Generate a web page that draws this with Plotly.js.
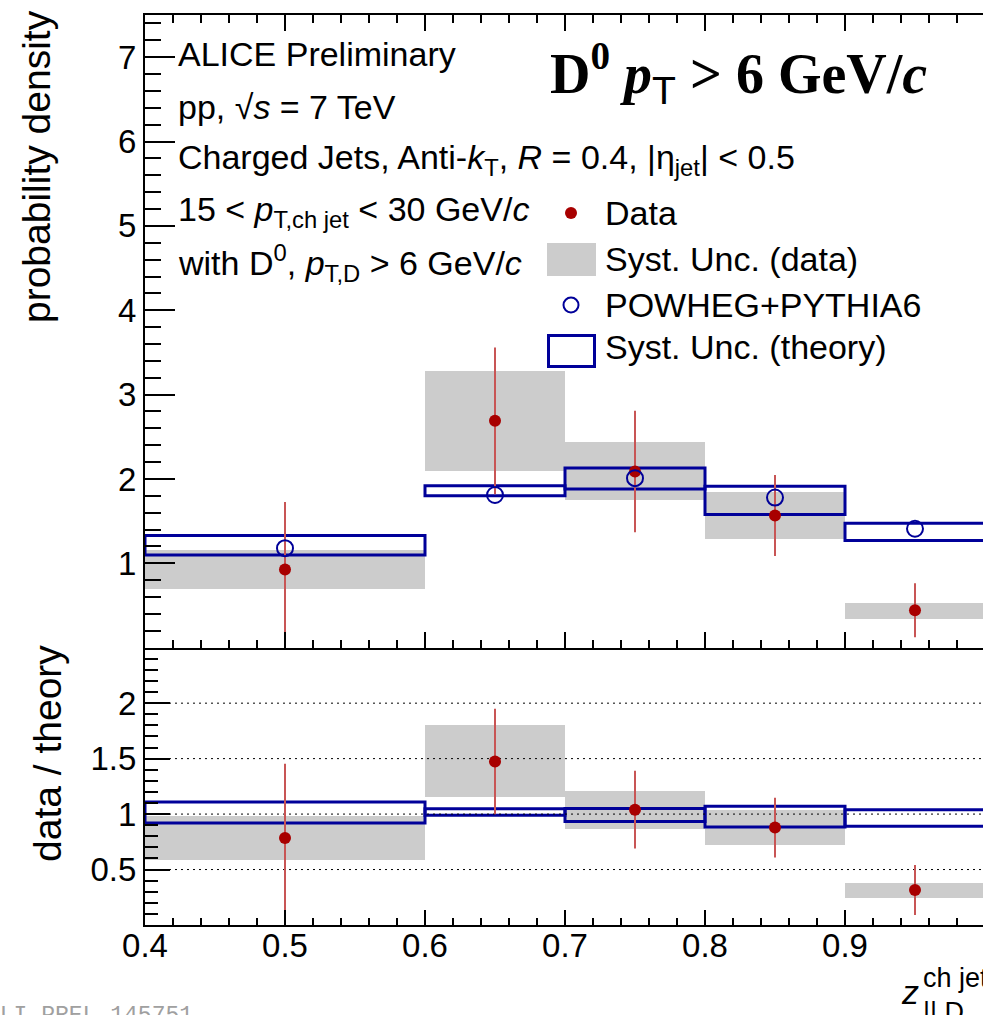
<!DOCTYPE html>
<html>
<head>
<meta charset="utf-8">
<script src="https://cdn.plot.ly/plotly-3.0.1.min.js"></script>
<style>html,body{margin:0;padding:0;background:#fff;}#chart{width:983px;height:1015px;}</style>
</head>
<body>
<div id="chart"></div>
<script>
// ---- data ----
const binLo = [0.4, 0.6, 0.7, 0.8, 0.9];
const binHi = [0.6, 0.7, 0.8, 0.9, 1.0];
const xPoints = [0.5, 0.65, 0.75, 0.85, 0.95];

// upper panel: probability density
const dataY        = [0.926, 2.69, 2.09, 1.566, 0.444];
const dataErr      = [0.80, 0.87, 0.72, 0.48, 0.32];
const dataSystLo   = [0.69, 2.10, 1.75, 1.286, 0.344];
const dataSystHi   = [1.16, 3.28, 2.44, 1.85, 0.534];
const theoryY      = [1.18, 1.81, 2.01, 1.78, 1.41];
const theorySystLo = [1.10, 1.80, 1.88, 1.58, 1.27];
const theorySystHi = [1.33, 1.92, 2.13, 1.915, 1.476];

// lower panel: data / theory
const ratioY       = [0.784, 1.474, 1.04, 0.878, 0.316];
const ratioErr     = [0.67, 0.475, 0.35, 0.27, 0.225];
const ratioSystLo  = [0.59, 1.153, 0.865, 0.718, 0.247];
const ratioSystHi  = [0.98, 1.80, 1.21, 1.035, 0.379];
const ratioTheoLo  = [0.92, 0.99, 0.934, 0.883, 0.89];
const ratioTheoHi  = [1.11, 1.049, 1.05, 1.07, 1.04];

// tick labels
const topTickVals = [1, 2, 3, 4, 5, 6, 7];
const topTickText = ['1', '2', '3', '4', '5', '6', '7'];
const ratioTickVals = [0.5, 1, 1.5, 2];
const ratioTickText = ['0.5', '1', '1.5', '2'];
const ratioGridVals = [0.5, 1, 1.5, 2];

// ---- styles ----
const RED = '#a80000', ERRRED = '#c85555', BLUE = '#000099', GREY = '#cccccc';
const FONT = 'Liberation Sans, Arial, sans-serif';
const X0 = 0.4, XFULL = 1.0;
const TICKSIZE = 33, TEXTSIZE = 34;

// figure geometry (pixels)
const W = 983, H = 1015, L = 145, R = 983, T = 15, B = 925;
const xScale = 1400; // px per unit of z
const xMaxVisible = X0 + (R - L) / xScale;
const splitPx = 647.7;
const splitFrac = (B - splitPx) / (B - T);
function px(x) { return (x - L) / (R - L); }
function py(y) { return (B - y) / (B - T); }

const centers = binLo.map((lo, i) => (lo + binHi[i]) / 2);
const widths = binLo.map((lo, i) => binHi[i] - lo);
const diff = (hi, lo) => hi.map((h, i) => h - lo[i]);

const traces = [];
// upper panel
traces.push({type: 'bar', x: centers, width: widths, base: dataSystLo, y: diff(dataSystHi, dataSystLo),
  xaxis: 'x', yaxis: 'y', marker: {color: GREY, line: {width: 0}}, hoverinfo: 'skip', showlegend: false});
traces.push({type: 'bar', x: centers, width: widths, base: theorySystLo, y: diff(theorySystHi, theorySystLo),
  xaxis: 'x', yaxis: 'y', marker: {color: 'rgba(0,0,0,0)', line: {width: 3, color: BLUE}}, hoverinfo: 'skip', showlegend: false});
traces.push({type: 'scatter', mode: 'markers', x: xPoints, y: dataY, xaxis: 'x', yaxis: 'y',
  error_y: {type: 'data', array: dataErr, visible: true, color: ERRRED, thickness: 2, width: 0},
  marker: {color: RED, size: 12, symbol: 'circle'}, hoverinfo: 'skip', showlegend: false});
traces.push({type: 'scatter', mode: 'markers', x: xPoints, y: theoryY, xaxis: 'x', yaxis: 'y',
  marker: {color: BLUE, size: 16, symbol: 'circle-open', line: {width: 2, color: BLUE}}, hoverinfo: 'skip', showlegend: false});

// lower panel
traces.push({type: 'bar', x: centers, width: widths, base: ratioSystLo, y: diff(ratioSystHi, ratioSystLo),
  xaxis: 'x2', yaxis: 'y2', marker: {color: GREY, line: {width: 0}}, hoverinfo: 'skip', showlegend: false});
ratioGridVals.forEach(v => {
  traces.push({type: 'scatter', mode: 'lines', x: [X0, XFULL], y: [v, v], xaxis: 'x2', yaxis: 'y2',
    line: {color: '#000', width: 1, dash: '2px,4px'}, hoverinfo: 'skip', showlegend: false});
});
traces.push({type: 'bar', x: centers, width: widths, base: ratioTheoLo, y: diff(ratioTheoHi, ratioTheoLo),
  xaxis: 'x2', yaxis: 'y2', marker: {color: 'rgba(0,0,0,0)', line: {width: 3, color: BLUE}}, hoverinfo: 'skip', showlegend: false});
traces.push({type: 'scatter', mode: 'markers', x: xPoints, y: ratioY, xaxis: 'x2', yaxis: 'y2',
  error_y: {type: 'data', array: ratioErr, visible: true, color: ERRRED, thickness: 2, width: 0},
  marker: {color: RED, size: 12, symbol: 'circle'}, hoverinfo: 'skip', showlegend: false});

const tickCommon = {showgrid: false, zeroline: false, fixedrange: true, tickcolor: '#000', tickwidth: 2,
  linecolor: '#000', linewidth: 2, ticks: 'inside'};

const layout = {
  width: W, height: H,
  margin: {l: L, r: W - R, t: T, b: H - B, pad: 0},
  paper_bgcolor: '#fff', plot_bgcolor: '#fff',
  barmode: 'overlay', bargap: 0, showlegend: false,
  font: {family: FONT, color: '#000'},
  xaxis: Object.assign({}, tickCommon, {domain: [0, 1], anchor: 'y', range: [X0, xMaxVisible],
    showline: true, mirror: 'allticks', ticklen: 16, tickmode: 'linear', tick0: X0, dtick: 0.1,
    minor: {ticks: 'inside', ticklen: 8, tickwidth: 2, tickcolor: '#000', tickmode: 'linear', tick0: X0, dtick: 0.02},
    showticklabels: false}),
  yaxis: Object.assign({}, tickCommon, {domain: [splitFrac, 1], anchor: 'x', range: [0, 7.5],
    showline: true, mirror: false, ticklen: 30, tickmode: 'array', tickvals: topTickVals, ticktext: topTickText,
    minor: {ticks: 'inside', ticklen: 16, tickwidth: 2, tickcolor: '#000', tickmode: 'linear', tick0: 0, dtick: 0.2},
    tickfont: {size: TICKSIZE, family: FONT}, ticklabelstandoff: 0}),
  yaxis3: Object.assign({}, tickCommon, {overlaying: 'y', side: 'right', anchor: 'x', range: [0, 7.5],
    showline: false, ticklen: 30, tickmode: 'linear', tick0: 0, dtick: 1,
    minor: {ticks: 'inside', ticklen: 16, tickwidth: 2, tickcolor: '#000', tickmode: 'linear', tick0: 0, dtick: 0.2},
    showticklabels: false}),
  xaxis2: Object.assign({}, tickCommon, {domain: [0, 1], anchor: 'y2', range: [X0, xMaxVisible],
    showline: true, mirror: false, ticklen: 15, tickmode: 'linear', tick0: X0, dtick: 0.1,
    minor: {ticks: 'inside', ticklen: 7, tickwidth: 2, tickcolor: '#000', tickmode: 'linear', tick0: X0, dtick: 0.02},
    tickfont: {size: TICKSIZE, family: FONT}, ticklabelstandoff: -10}),
  xaxis3: Object.assign({}, tickCommon, {overlaying: 'x2', side: 'top', anchor: 'y2', range: [X0, xMaxVisible],
    showline: false, ticklen: 8, tickmode: 'linear', tick0: X0, dtick: 0.1,
    minor: {ticks: 'inside', ticklen: 4, tickwidth: 2, tickcolor: '#000', tickmode: 'linear', tick0: X0, dtick: 0.02},
    showticklabels: false}),
  yaxis2: Object.assign({}, tickCommon, {domain: [0, splitFrac], anchor: 'x2', range: [0, 2.5],
    showline: true, mirror: false, ticklen: 25, tickmode: 'array', tickvals: ratioTickVals, ticktext: ratioTickText,
    minor: {ticks: 'inside', ticklen: 13, tickwidth: 2, tickcolor: '#000', tickmode: 'linear', tick0: 0, dtick: 0.1},
    tickfont: {size: TICKSIZE, family: FONT}, ticklabelstandoff: 0}),
  yaxis4: Object.assign({}, tickCommon, {overlaying: 'y2', side: 'right', anchor: 'x2', range: [0, 2.5],
    showline: false, ticklen: 25, tickmode: 'linear', tick0: 0, dtick: 0.5,
    minor: {ticks: 'inside', ticklen: 13, tickwidth: 2, tickcolor: '#000', tickmode: 'linear', tick0: 0, dtick: 0.1},
    showticklabels: false}),
  shapes: [
    // legend keys
    {type: 'circle', xref: 'paper', yref: 'paper', x0: px(565), x1: px(577), y0: py(219), y1: py(207),
      fillcolor: RED, line: {width: 0}},
    {type: 'rect', xref: 'paper', yref: 'paper', x0: px(547), x1: px(596), y0: py(276), y1: py(243),
      fillcolor: GREY, line: {width: 0}},
    {type: 'circle', xref: 'paper', yref: 'paper', x0: px(563.5), x1: px(578.5), y0: py(312.5), y1: py(297.5),
      fillcolor: 'rgba(0,0,0,0)', line: {width: 2, color: BLUE}},
    {type: 'rect', xref: 'paper', yref: 'paper', x0: px(548.5), x1: px(594.5), y0: py(366.5), y1: py(335.5),
      fillcolor: 'rgba(0,0,0,0)', line: {width: 3, color: BLUE}}
  ],
  annotations: []
};

function txt(text, x, y, size, opts) {
  return Object.assign({xref: 'paper', yref: 'paper', x: px(x), y: py(y), text: text, showarrow: false,
    xanchor: 'left', yanchor: 'middle', font: {size: size, family: FONT, color: '#000'}}, opts || {});
}
const A = layout.annotations;
// left text block
A.push(txt('ALICE Preliminary', 176, 54, TEXTSIZE));
A.push(txt('pp, √<i>s</i> = 7 TeV', 176, 107, TEXTSIZE));
A.push(txt('Charged Jets, Anti-<i>k</i><sub>T</sub>, <i>R</i> = 0.4, |η<sub>jet</sub>| &lt; 0.5', 176, 159, TEXTSIZE));
A.push(txt('15 &lt; <i>p</i><sub>T,ch jet</sub> &lt; 30 GeV/<i>c</i>', 176, 211, TEXTSIZE));
A.push(txt('with D<sup>0</sup>, <i>p</i><sub>T,D</sub> &gt; 6 GeV/<i>c</i>', 176, 263, TEXTSIZE));
// big label
A.push(txt('<b>D<sup>0</sup> <i>p</i></b><sub><span style="font-family:Liberation Sans">T</span></sub><b> &gt; 6 GeV/<i>c</i></b>',
  738, 73, 56, {xanchor: 'center', font: {size: 56, family: 'Liberation Serif, Times New Roman, serif', color: '#000'}}));
// legend texts
A.push(txt('Data', 603, 213, TEXTSIZE));
A.push(txt('Syst. Unc. (data)', 603, 259, TEXTSIZE));
A.push(txt('POWHEG+PYTHIA6', 603, 305, TEXTSIZE));
A.push(txt('Syst. Unc. (theory)', 603, 347, TEXTSIZE));
// axis titles
A.push(txt('probability density', 37, 166, 39, {xanchor: 'center', textangle: -90}));
A.push(txt('data / theory', 47, 754, 39, {xanchor: 'center', textangle: -90}));
A.push(txt('<i>z</i>', 899, 992, 34));
A.push(txt('ch jet', 921, 978, 27));
A.push(txt('||,D', 921, 1012, 27));
// watermark
A.push(txt('ALI-PREL-145751', 195, 1016, 23, {xanchor: 'right', yanchor: 'middle',
  font: {size: 23, family: 'Liberation Mono, Courier New, monospace', color: '#a0a0a0'}}));

Plotly.newPlot('chart', traces, layout, {staticPlot: true, displayModeBar: false});
</script>
</body>
</html>
